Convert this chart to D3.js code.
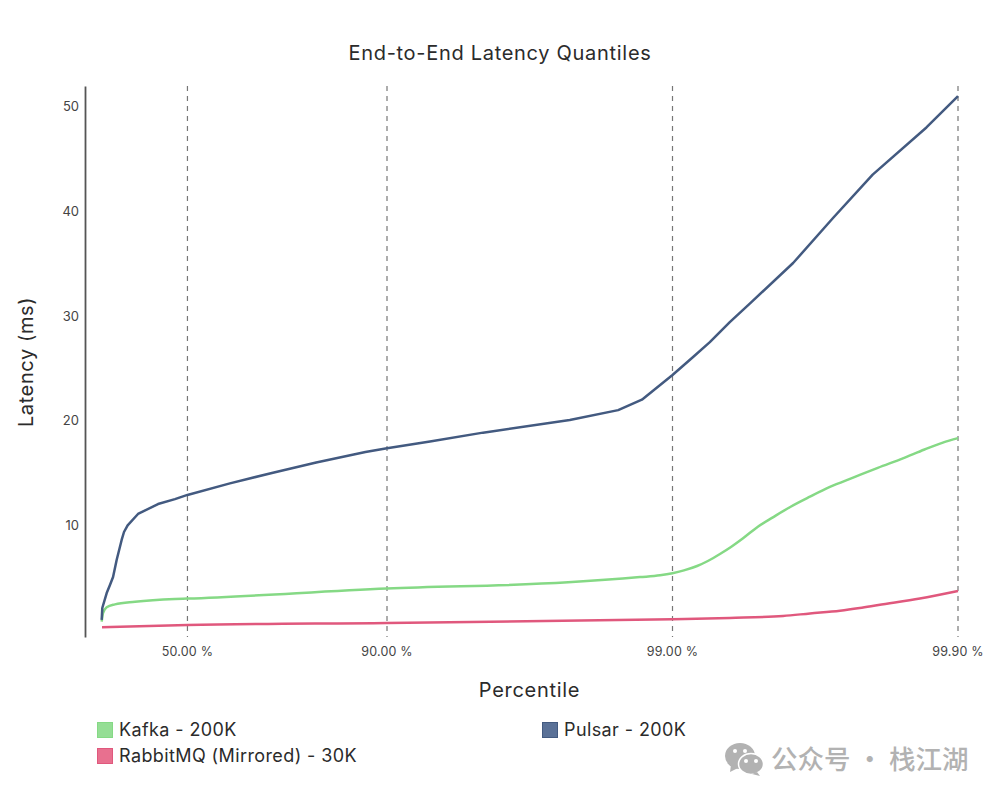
<!DOCTYPE html>
<html>
<head>
<meta charset="utf-8">
<script src="https://cdn.jsdelivr.net/npm/d3@7"></script>
<style>
  html, body { margin: 0; background: #fff; }
  svg { display: block; }
  text { font-family: Inter, "Open Sans", sans-serif; fill: #2b2b2b; }
</style>
</head>
<body>
<svg width="1000" height="800"></svg>
<script>
// values: percentile, latency in ms
const kafkaPct = [0.16, 1.2, 4.1, 10.3, 23.7, 44.7, 50, 90, 97.68, 98.7, 98.894, 99, 99.088, 99.18, 99.248, 99.318, 99.376, 99.434, 99.499, 99.555, 99.613, 99.67, 99.719, 99.767, 99.809, 99.844, 99.869, 99.887, 99.9];
const kafkaMs = [0.8, 1.62, 2.17, 2.45, 2.7, 2.96, 3.0, 3.97, 4.55, 5.05, 5.22, 5.42, 5.69, 6.11, 6.59, 7.26, 7.93, 8.76, 9.89, 10.76, 11.75, 12.73, 13.66, 14.55, 15.49, 16.4, 17.24, 17.9, 18.33];

const pulsarPct = [0.16, 0.64, 4.1, 6.6, 8.9, 11.5, 15, 16.6, 19, 25.5, 36.6, 44.7, 50, 64.5, 74.7, 82.3, 88.1, 90, 92.93, 95.39, 97.71, 98.45, 98.72, 99, 99.153, 99.26, 99.37, 99.465, 99.622, 99.726, 99.801, 99.871, 99.9];
const pulsarMs = [0.96, 2.1, 3.53, 4.3, 5.06, 6.69, 8.6, 9.36, 10, 11.08, 12.03, 12.5, 12.9, 14, 15, 16, 17, 17.35, 18, 18.85, 20.05, 21, 22, 24.35, 26.07, 27.5, 29.4, 31.2, 35.05, 39.35, 43.5, 48, 51];

const rabbitPct = [0.4, 50, 90, 99, 99.37, 99.59, 99.67, 99.741, 99.779, 99.81, 99.864, 99.9];
const rabbitMs = [0.25, 0.47, 0.67, 1.02, 1.15, 1.34, 1.58, 1.84, 2.1, 2.39, 3.0, 3.72];

const xTicks = [50, 90, 99, 99.9];
const yTicks = [10, 20, 30, 40, 50];

const seriesNames = ['Kafka - 200K', 'Pulsar - 200K', 'RabbitMQ (Mirrored) - 30K'];

let zip = (pct, ms) => pct.map((p, i) => ({ p: p, ms: ms[i] }));

let series = [
  { name: seriesNames[2], values: zip(rabbitPct, rabbitMs), line: '#e0587d', fill: '#e8708f', lx: 97, ly: 748, curve: d3.curveMonotoneX },
  { name: seriesNames[0], values: zip(kafkaPct, kafkaMs), line: '#85d985', fill: '#95de95', lx: 97, ly: 722, curve: d3.curveMonotoneX },
  { name: seriesNames[1], values: zip(pulsarPct, pulsarMs), line: '#435a80', fill: '#5a7197', lx: 542, ly: 722, curve: d3.curveLinear }
];

let svg = d3.select('svg');

// the x axis is spaced by number of nines: 100 / (100 - p)
let nines = p => 100 / (100 - p);

let x = d3.scaleLog()
  .domain([1, 1000])
  .range([101.5, 958]);

let y = d3.scaleLinear()
  .domain([-0.67, 51.96])
  .range([637, 86]);

// grid
svg.append('g')
  .selectAll('line').data(xTicks).enter().append('line')
  .attr('x1', d => x(nines(d)))
  .attr('x2', d => x(nines(d)))
  .attr('y1', y.range()[1])
  .attr('y2', y.range()[0])
  .attr('stroke', '#777')
  .attr('stroke-width', 1.2)
  .attr('stroke-dasharray', '5 5');

// axes
let yAxis = d3.axisLeft(y)
  .tickValues(yTicks)
  .tickSize(0)
  .tickPadding(6);

let gy = svg.append('g')
  .attr('transform', 'translate(85,0)')
  .call(yAxis);
gy.select('.domain').attr('stroke', '#555').attr('stroke-width', 1.8);
gy.selectAll('text').style('font-size', '13px').style('font-family', 'Inter').style('fill', '#444');

let labels = svg.append('g')
  .selectAll('text').data(xTicks).enter().append('text')
  .attr('x', d => x(nines(d)))
  .attr('y', 656)
  .attr('text-anchor', 'middle')
  .style('font-size', '12.5px')
  .style('letter-spacing', '0.2px')
  .style('fill', '#444')
  .text(d => d.toFixed(2) + ' %');

// lines
let line = d3.line()
  .x(d => x(nines(d.p)))
  .y(d => y(d.ms));

svg.append('g')
  .selectAll('path').data(series).enter().append('path')
  .attr('d', d => line.curve(d.curve)(d.values))
  .attr('fill', 'none')
  .attr('stroke', d => d.line)
  .attr('stroke-width', 2.5)
  .attr('stroke-linejoin', 'round');

// titles
svg.append('text')
  .attr('x', 500).attr('y', 60)
  .attr('text-anchor', 'middle')
  .style('font-size', '20px')
  .style('letter-spacing', '0.7px')
  .text('End-to-End Latency Quantiles');

svg.append('text')
  .attr('x', 529.5).attr('y', 697)
  .attr('text-anchor', 'middle')
  .style('font-size', '20px')
  .style('letter-spacing', '0.7px')
  .text('Percentile');

svg.append('text')
  .attr('transform', 'translate(33,362) rotate(-90)')
  .attr('text-anchor', 'middle')
  .style('font-size', '20px')
  .style('letter-spacing', '0.6px')
  .text('Latency (ms)');

// legend
let legend = svg.append('g')
  .selectAll('g').data(series).enter().append('g')
  .attr('transform', d => `translate(${d.lx},${d.ly})`);

legend.append('rect')
  .attr('x', 0.5).attr('y', 0.5)
  .attr('width', 15).attr('height', 15)
  .attr('fill', d => d.fill)
  .attr('stroke', d => d.line);

legend.append('text')
  .attr('x', 22).attr('y', 14)
  .style('font-size', '18px')
  .style('letter-spacing', '0.4px')
  .text(d => d.name);

// watermark
let mark = svg.append('g').attr('transform', 'translate(725,743)');
mark.append('ellipse').attr('cx', 15).attr('cy', 13).attr('rx', 15).attr('ry', 13).attr('fill', '#b2b2b2');
mark.append('path').attr('d', 'M6 22 L5 29 L13 25 Z').attr('fill', '#b2b2b2');
mark.append('ellipse').attr('cx', 26).attr('cy', 21).attr('rx', 12.5).attr('ry', 10.5).attr('fill', '#b2b2b2').attr('stroke', '#fff').attr('stroke-width', 1.5);
mark.append('path').attr('d', 'M32 29 L35 33 L27 31 Z').attr('fill', '#b2b2b2');
mark.selectAll('circle.a').data([[10, 8], [20, 8], [21, 18], [31, 18]]).enter().append('circle')
  .attr('cx', d => d[0]).attr('cy', d => d[1]).attr('r', 2).attr('fill', '#fff');

svg.append('text')
  .attr('x', 771).attr('y', 769)
  .style('font-family', '"Noto Sans CJK SC"')
  .style('font-size', '26.5px')
  .style('font-weight', 500)
  .style('fill', '#b2b2b2')
  .text('公众号 · 栈江湖');
</script>
</body>
</html>
